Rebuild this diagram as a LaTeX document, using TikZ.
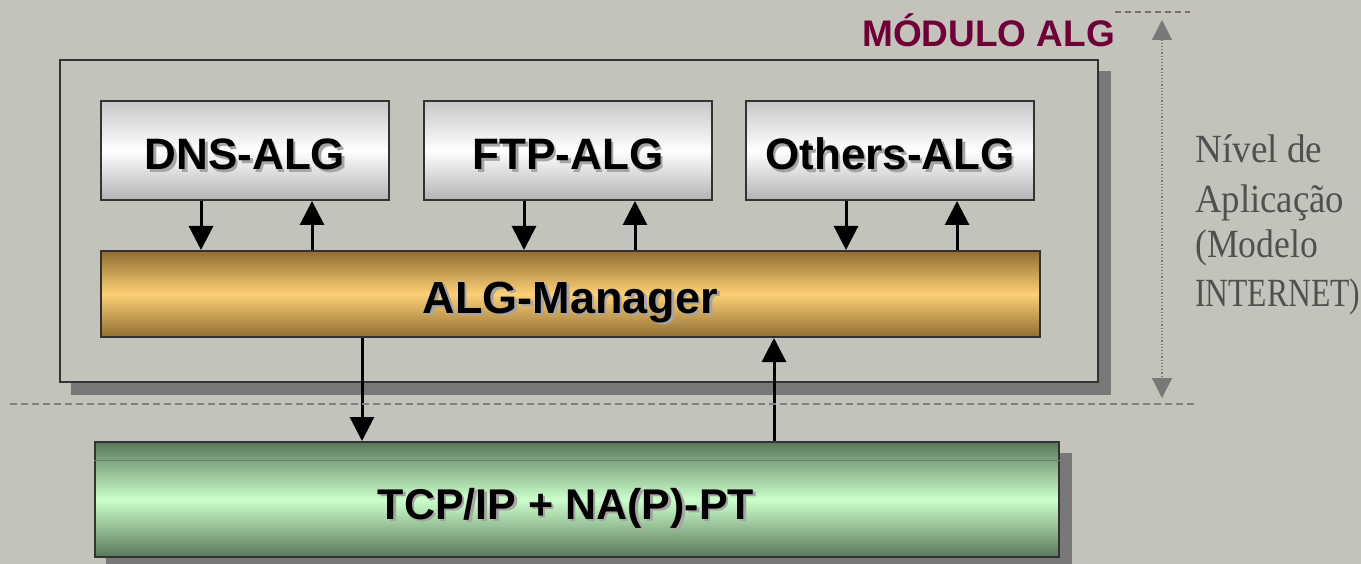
\documentclass[tikz,border=0pt]{standalone}
\usepackage{fontspec}
\setmainfont{Liberation Sans}
\newfontfamily\serifx{Liberation Serif}
\usetikzlibrary{arrows.meta,backgrounds}
\definecolor{bg}{RGB}{196,195,187}
\definecolor{shadowc}{RGB}{120,120,120}
\definecolor{edgec}{RGB}{51,51,51}
\definecolor{titlec}{RGB}{110,0,55}
\definecolor{sidec}{RGB}{80,80,80}
\definecolor{goldtop}{RGB}{145,110,50}
\definecolor{goldmid}{RGB}{252,208,118}
\definecolor{greentop}{RGB}{90,120,90}
\definecolor{greenmid}{RGB}{204,255,204}
\definecolor{txtshadow}{RGB}{165,165,165}
\newcommand\shtxt[1]{\rlap{\kern2.5pt\raisebox{-2.5pt}{\textcolor{txtshadow}{#1}}}#1}
\tikzset{
  boxbase/.style={rectangle, draw=edgec, line width=2pt, inner sep=0pt, text depth=0pt, font=\bfseries\fontsize{44}{50}\selectfont},
  whitebox/.style={boxbase, minimum width=288pt, minimum height=99pt, text height=39pt, top color=black!22, bottom color=black!30, middle color=white},
  goldbox/.style={boxbase, text height=38pt, top color=goldtop, bottom color=goldtop, middle color=goldmid},
  greenbox/.style={boxbase, top color=greentop, bottom color=greentop, middle color=greenmid},
  lbl/.style={inner sep=0pt, font=\bfseries\fontsize{43}{50}\selectfont},
  arr/.style={line width=3pt, -{Triangle[width=24pt,length=24pt]}},
  sidetxt/.style={anchor=base west, inner sep=0pt, text=sidec, font=\serifx\fontsize{40}{48}\selectfont},
  shad/.style={fill=shadowc}
}
\begin{document}
\begin{tikzpicture}[x=1pt,y=-1pt]
\begin{scope}[on background layer]
  \fill[bg] (0,0) rectangle (1361,564);
\end{scope}
\useasboundingbox (0,0) rectangle (1361,564);

% outer module box
\node[rectangle, draw=edgec, line width=2.5pt, fill=bg, minimum width=1038pt, minimum height=322pt, inner sep=0pt] (mod) at (579,221) {};

% ALG boxes
\node[whitebox] (dns) at (245,150.5) {\shtxt{DNS-ALG}};
\node[whitebox] (ftp) at (568,150.5) {\shtxt{FTP-ALG}};
\node[whitebox] (oth) at (890,150.5) {\shtxt{Others-ALG}};

% manager
\node[goldbox, minimum width=939pt, minimum height=86pt, font=\bfseries\fontsize{45}{50}\selectfont] (mgr) at (570.5,294) {\shtxt{ALG-Manager}};

% TCP box
\node[greenbox, minimum width=964pt, minimum height=115pt] (tcp) at (577,499.5) {};
\draw[line width=1pt, draw={rgb,255:red,105;green,130;blue,105}] ([yshift=-19pt]tcp.north west) -- ([yshift=-19pt]tcp.north east);
\node[lbl] (tcpL) at ([xshift=-11pt,yshift=-10pt]tcp.center) {\shtxt{TCP/IP + NA(P)-PT}};

% shadows
\begin{scope}[on background layer]
  \foreach \n/\s in {mod/12, dns/11, ftp/11, oth/11, mgr/12, tcp/12}{
    \fill[shad] ([xshift=\s pt,yshift=-\s pt]\n.north west) rectangle ([xshift=\s pt,yshift=-\s pt]\n.south east);
  }
\end{scope}

% arrows between ALG boxes and manager
\foreach \n in {dns,ftp,oth}{
  \draw[arr] ([xshift=-44pt]\n.south) -- ([xshift=-44pt]\n.south |- mgr.north);
  \draw[arr] ([xshift=67pt]\n.south |- mgr.north) -- ([xshift=67pt]\n.south);
}
% arrows manager <-> tcp
\draw[arr] (mgr.south -| 362,0) -- (tcp.north -| 362,0);
\draw[arr] (tcp.north -| 774,0) -- (mgr.south -| 774,0);

% title
\node[anchor=base west, inner sep=0pt, text=titlec, font=\bfseries\fontsize{37}{40}\selectfont] (title) at (862,47) {MÓDULO ALG};

% dashed separators
\coordinate (d1a) at (10,404);
\coordinate (d1b) at (1195,404);
\draw[line width=1.5pt, draw={rgb,255:red,128;green,128;blue,128}, dash pattern=on 7pt off 4pt] (d1a) -- (d1b);
\coordinate (d2a) at (1115,12);
\coordinate (d2b) at (1190,12);
\draw[line width=1.5pt, draw={rgb,255:red,115;green,115;blue,95}, dash pattern=on 6pt off 4pt] (d2a) -- (d2b);

% vertical level arrow
\coordinate (vt) at (1162,20);
\coordinate (vb) at (1162,398);
\draw[line width=1.2pt, draw={rgb,255:red,120;green,120;blue,120}, dotted,
  {Triangle[width=20pt,length=20pt]}-{Triangle[width=20pt,length=20pt]}] (vt) -- (vb);

% side text
\node[sidetxt] (s1) at (1195,163) {\scalebox{0.93}[1]{Nível de}};
\node[sidetxt] (s2) at (1195,213) {\scalebox{0.92}[1]{Aplicação}};
\node[sidetxt] (s3) at (1195,258) {\scalebox{0.89}[1]{(Modelo}};
\node[sidetxt] (s4) at (1195,307) {\scalebox{0.79}[1]{INTERNET)}};
\end{tikzpicture}
\end{document}
